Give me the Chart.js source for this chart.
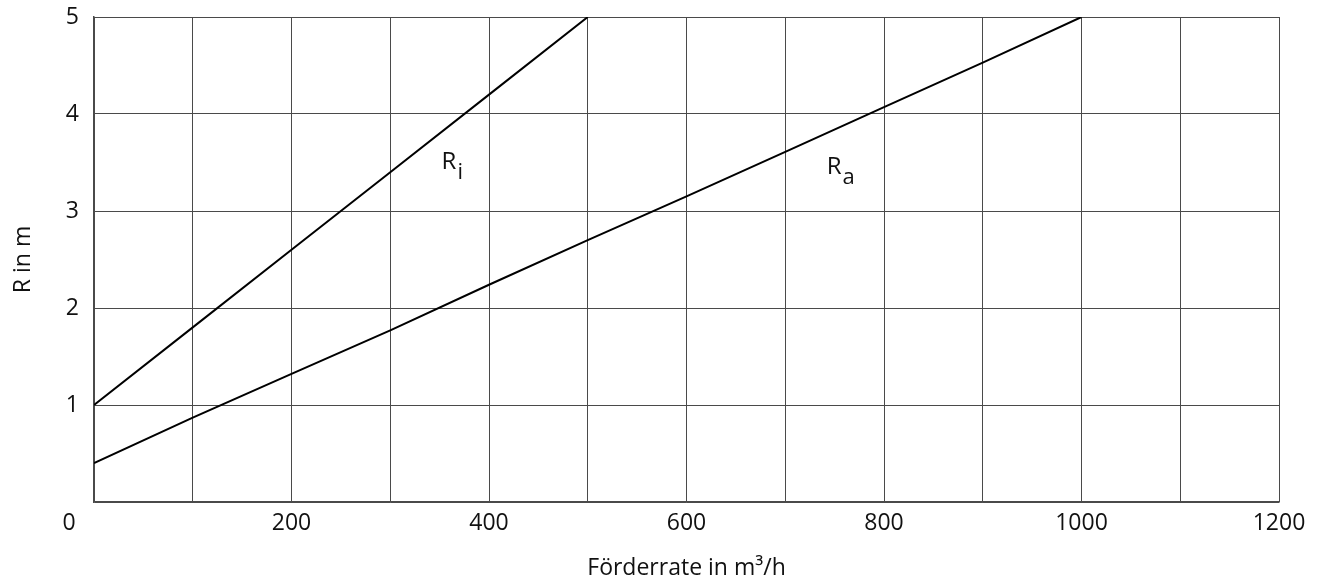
<!DOCTYPE html>
<html>
<head>
<meta charset="utf-8">
<script src="https://cdn.jsdelivr.net/npm/chart.js@4"></script>
<style>
  html, body { margin: 0; padding: 0; background: #fff; }
  #wrap { width: 1322px; height: 582px; }
</style>
</head>
<body>
<div id="wrap"><canvas id="chart" width="1322" height="582"></canvas></div>
<script>
// Werte
const foerderrate = [0, 100, 200, 300, 400, 500, 600, 700, 800, 900, 1000];
const radiusInnen = [1.0, 1.8, 2.6, 3.4, 4.2, 5.0];            // R_i, 0..500 m³/h
const radiusAussen = [0.40, 0.87, 1.32, 1.77, 2.24, 2.70, 3.15, 3.61, 4.07, 4.53, 5.0]; // R_a, 0..1000 m³/h
const xTickLabels = [200, 400, 600, 800, 1000, 1200];
const yTickLabels = [1, 2, 3, 4, 5];
const curveLabels = [
  { base: 'R', sub: 'i', x: 352, y: 3.5 },
  { base: 'R', sub: 'a', x: 742, y: 3.45 },
];

const FONT = '"Open Sans", "DejaVu Sans", sans-serif';
const GRID = '#4a4a4a';

// Kurvenbeschriftungen mit Index + "0" in der Ecke
const labelPlugin = {
  id: 'curveLabels',
  afterDatasetsDraw(chart) {
    const { ctx, scales: { x, y } } = chart;
    ctx.save();
    ctx.fillStyle = '#111';
    ctx.textBaseline = 'middle';
    curveLabels.forEach(l => {
      const px = x.getPixelForValue(l.x);
      const py = y.getPixelForValue(l.y);
      ctx.font = '24px ' + FONT;
      ctx.textAlign = 'left';
      ctx.fillText(l.base, px, py);
      const w = ctx.measureText(l.base).width;
      ctx.font = '22px ' + FONT;
      ctx.fillText(l.sub, px + w + 1, py + 10);
    });
    ctx.font = '23px ' + FONT;
    ctx.textAlign = 'center';
    ctx.fillText('0', x.left - 25, y.bottom + 21);
    ctx.restore();
  }
};

new Chart(document.getElementById('chart').getContext('2d'), {
  type: 'line',
  data: {
    datasets: [
      { label: 'R_i', data: radiusInnen.map((v, i) => ({ x: foerderrate[i], y: v })),
        borderColor: '#000', borderWidth: 2, pointRadius: 0, tension: 0, fill: false },
      { label: 'R_a', data: radiusAussen.map((v, i) => ({ x: foerderrate[i], y: v })),
        borderColor: '#000', borderWidth: 2, pointRadius: 0, tension: 0, fill: false },
    ],
  },
  options: {
    responsive: false,
    animation: false,
    layout: { padding: { top: 17, right: 43, left: 0, bottom: 0 } },
    plugins: { legend: { display: false }, tooltip: { enabled: false } },
    scales: {
      x: {
        type: 'linear', min: 0, max: 1200,
        grid: { color: GRID, lineWidth: 1, drawTicks: false },
        border: { color: GRID, width: 1.5 },
        ticks: {
          stepSize: 100, autoSkip: false, maxRotation: 0, padding: 8,
          color: '#111', font: { family: FONT, size: 23 },
          callback: v => xTickLabels.includes(v) ? String(v) : '',
        },
        title: { display: true, text: 'Förderrate in m³/h', color: '#111',
                 font: { family: FONT, size: 23 }, padding: { top: 6, bottom: 0 } },
        afterFit: s => { s.height = 80; s.paddingLeft = 0; s.paddingRight = 0; },
      },
      y: {
        min: 0, max: 5,
        grid: { color: GRID, lineWidth: 1, drawTicks: false },
        border: { color: GRID, width: 1.5 },
        ticks: {
          stepSize: 1, padding: 15,
          color: '#111', font: { family: FONT, size: 23 },
          callback: v => yTickLabels.includes(v) ? String(v) : '',
        },
        title: { display: true, text: 'R in m', color: '#111',
                 font: { family: FONT, size: 23 }, padding: { top: 10, bottom: 8 } },
        afterFit: s => { s.width = 94; s.paddingTop = 0; s.paddingBottom = 0; },
      },
    },
  },
  plugins: [labelPlugin],
});
</script>
</body>
</html>
